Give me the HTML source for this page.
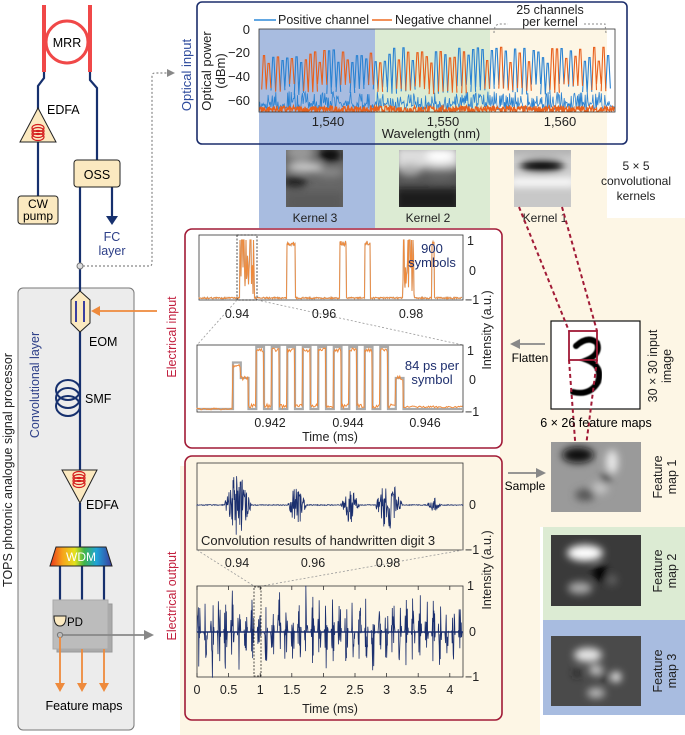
<!DOCTYPE html>
<html><head><meta charset="utf-8"><style>
html,body{margin:0;padding:0;background:#fff;}
svg{display:block;font-family:"Liberation Sans",sans-serif;}
</style></head><body>
<svg id="s" width="685" height="735" viewBox="0 0 685 735" xmlns="http://www.w3.org/2000/svg">
<defs>
<filter id="bl" x="-20%" y="-20%" width="140%" height="140%"><feGaussianBlur stdDeviation="4"/></filter>
<filter id="bl2"><feGaussianBlur stdDeviation="0.6"/></filter>
<linearGradient id="rb" x1="0" x2="1"><stop offset="0" stop-color="#e8331c"/><stop offset="0.2" stop-color="#f7a21b"/><stop offset="0.4" stop-color="#e4e21c"/><stop offset="0.55" stop-color="#3fb54a"/><stop offset="0.75" stop-color="#1fa3d8"/><stop offset="1" stop-color="#3b3a9c"/></linearGradient>
<clipPath id="c1"><rect x="259" y="20" width="356" height="92"/></clipPath>
<clipPath id="k1"><rect x="286" y="150" width="57" height="57"/></clipPath>
<clipPath id="k2"><rect x="399" y="150" width="57" height="57"/></clipPath>
<clipPath id="k3"><rect x="514" y="150" width="57" height="57"/></clipPath>
<clipPath id="f1"><rect x="551" y="442" width="90" height="70"/></clipPath>
<clipPath id="f2"><rect x="551" y="535" width="90" height="71"/></clipPath>
<clipPath id="f3"><rect x="551" y="636" width="90" height="70"/></clipPath>
</defs>
<rect x="180" y="466" width="360" height="269" fill="#fdf6e5"/>
<rect x="500" y="218" width="185" height="309" fill="#fdf6e5"/>
<rect x="543" y="527" width="142" height="93" fill="#dcebd3"/>
<rect x="543" y="620" width="142" height="95" fill="#a8bce0"/>
<rect x="259" y="29" width="116" height="199" fill="#a8bce0"/>
<rect x="375" y="29" width="115" height="199" fill="#dcebd3"/>
<rect x="490" y="29" width="117" height="201" fill="#fdf6e5"/>

<rect x="197" y="2" width="430" height="142" rx="5" fill="none" stroke="#1b2d6b" stroke-width="1.6"/>
<g id="spec" clip-path="url(#c1)"></g>
<rect x="259" y="29" width="356" height="83" fill="none" stroke="#333" stroke-width="0.8"/>
<g font-size="13" fill="#222">
<text x="250" y="34" text-anchor="end">0</text>
<text x="250" y="57" text-anchor="end">−20</text>
<text x="250" y="81" text-anchor="end">−40</text>
<text x="250" y="105" text-anchor="end">−60</text>
<text x="328" y="126" text-anchor="middle">1,540</text>
<text x="443" y="126" text-anchor="middle">1,550</text>
<text x="560" y="126" text-anchor="middle">1,560</text>
<text x="431" y="138" text-anchor="middle">Wavelength (nm)</text>
<text transform="translate(211,71) rotate(-90)" text-anchor="middle">Optical power</text>
<text transform="translate(225,71) rotate(-90)" text-anchor="middle">(dBm)</text>
<text x="278" y="24" font-size="12.5">Positive channel</text>
<text x="395" y="24" font-size="12.5">Negative channel</text>
<text x="550" y="14" font-size="12.5" text-anchor="middle">25 channels</text>
<text x="550" y="26" font-size="12.5" text-anchor="middle">per kernel</text>
</g>
<line x1="254" y1="20" x2="276" y2="20" stroke="#2e8ad8" stroke-width="1.5"/>
<line x1="372" y1="20" x2="392" y2="20" stroke="#ee6b22" stroke-width="1.5"/>
<path d="M494,33 Q494,24 500,24 L508,24 M584,24 L605,24 Q605,24 606,33" fill="none" stroke="#888" stroke-dasharray="2,2"/>
<text transform="translate(191,75) rotate(-90)" text-anchor="middle" font-size="13" fill="#2d4a9c">Optical input</text>

<g clip-path="url(#k1)"><rect x="286" y="150" width="57" height="57" fill="#666"/><g filter="url(#bl)">
<ellipse cx="300" cy="152" rx="14" ry="8" fill="#999"/><ellipse cx="330" cy="155" rx="12" ry="8" fill="#111"/><ellipse cx="305" cy="167" rx="18" ry="5" fill="#ccc"/><ellipse cx="330" cy="172" rx="14" ry="5" fill="#888"/><ellipse cx="295" cy="182" rx="12" ry="6" fill="#222"/><rect x="286" y="192" width="57" height="20" fill="#5a5a5a"/></g></g>
<g clip-path="url(#k2)"><rect x="399" y="150" width="57" height="57" fill="#555"/><g filter="url(#bl)">
<rect x="395" y="146" width="65" height="22" fill="#ddd"/><ellipse cx="440" cy="156" rx="14" ry="6" fill="#fff"/><ellipse cx="410" cy="170" rx="12" ry="6" fill="#aaa"/><ellipse cx="440" cy="174" rx="15" ry="6" fill="#666"/><rect x="395" y="188" width="65" height="24" fill="#1a1a1a"/></g></g>
<g clip-path="url(#k3)"><rect x="514" y="150" width="57" height="57" fill="#ccc"/><g filter="url(#bl)">
<rect x="510" y="146" width="65" height="8" fill="#aaa"/><ellipse cx="542" cy="166" rx="22" ry="6" fill="#000"/><rect x="510" y="178" width="65" height="8" fill="#fff"/><rect x="510" y="188" width="65" height="24" fill="#c8c8c8"/></g></g>
<g font-size="12" fill="#222" text-anchor="middle">
<text x="315" y="222">Kernel 3</text><text x="428" y="222">Kernel 2</text><text x="545" y="222">Kernel 1</text>
<text x="636" y="170">5 × 5</text><text x="636" y="185">convolutional</text><text x="636" y="200">kernels</text>
</g>

<rect x="185" y="229" width="317" height="219" rx="7" fill="#fff" stroke="#a11a36" stroke-width="1.6"/>
<text transform="translate(176,337) rotate(-90)" text-anchor="middle" font-size="12.5" fill="#c2203f">Electrical input</text>
<rect x="199" y="235" width="264" height="65" fill="#fff" stroke="#333" stroke-width="0.8"/>
<g id="p1"></g>
<rect x="237" y="235" width="20" height="65" fill="none" stroke="#222" stroke-dasharray="2,1.5" stroke-width="0.8"/>
<path d="M237,300 L197,345 M257,300 L463,345" stroke="#999" stroke-dasharray="2,2" stroke-width="0.8" fill="none"/>
<rect x="197" y="345" width="266" height="67" fill="#fff" stroke="#333" stroke-width="0.8"/>
<g id="p2"></g>
<g font-size="12.5" fill="#222">
<text x="467" y="245">1</text><text x="469" y="275">0</text><text x="465" y="304">−1</text>
<text x="467" y="355">1</text><text x="469" y="384">0</text><text x="465" y="416">−1</text>
<text x="237" y="318" text-anchor="middle">0.94</text><text x="324" y="318" text-anchor="middle">0.96</text><text x="411" y="318" text-anchor="middle">0.98</text>
<text x="270" y="427" text-anchor="middle">0.942</text><text x="348" y="427" text-anchor="middle">0.944</text><text x="425" y="427" text-anchor="middle">0.946</text>
<text x="330" y="441" text-anchor="middle">Time (ms)</text>
<text transform="translate(491,330) rotate(-90)" text-anchor="middle">Intensity (a.u.)</text>
</g>
<g font-size="13" fill="#1e2f6e" text-anchor="middle">
<text x="432" y="253">900</text><text x="432" y="267">symbols</text>
<text x="432" y="370">84 ps per</text><text x="432" y="384">symbol</text>
</g>

<rect x="185" y="456" width="317" height="264" rx="7" fill="#fdf6e5" stroke="#a11a36" stroke-width="1.6"/>
<text transform="translate(176,596) rotate(-90)" text-anchor="middle" font-size="12.5" fill="#c2203f">Electrical output</text>
<rect x="197" y="463" width="266" height="87" fill="#fdf6e5" stroke="#333" stroke-width="0.8"/>
<g id="p3"></g>
<path d="M197,550 L254,586 M463,550 L262,586" stroke="#999" stroke-dasharray="2,2" stroke-width="0.8" fill="none"/>
<rect x="197" y="586" width="266" height="91" fill="#fdf6e5" stroke="#333" stroke-width="0.8"/>
<g id="p4"></g>
<rect x="254" y="587" width="7" height="89" fill="none" stroke="#222" stroke-dasharray="2,1.5" stroke-width="0.8"/>
<g font-size="12.5" fill="#222">
<text x="469" y="509">0</text><text x="465" y="554">−1</text>
<text x="467" y="590">1</text><text x="469" y="636">0</text><text x="465" y="681">−1</text>
<text x="237" y="567" text-anchor="middle">0.94</text><text x="313" y="567" text-anchor="middle">0.96</text><text x="388" y="567" text-anchor="middle">0.98</text>
<text x="201" y="545" font-size="13">Convolution results of handwritten digit 3</text>
<text x="330" y="713" text-anchor="middle">Time (ms)</text>
<text transform="translate(491,570) rotate(-90)" text-anchor="middle">Intensity (a.u.)</text>
</g>
<g id="xt" font-size="12.5" fill="#222" text-anchor="middle"></g>

<rect x="18" y="288" width="116" height="442" rx="5" fill="#ececec" stroke="#777"/>
<text transform="translate(12,470) rotate(-90)" text-anchor="middle" font-size="12.5" fill="#222">TOPS photonic analogue signal processor</text>
<text transform="translate(39,385) rotate(-90)" text-anchor="middle" font-size="12.5" fill="#2d3f88">Convolutional layer</text>
<g stroke="#f04848" stroke-width="4" fill="none">
<line x1="44" y1="5" x2="44" y2="72"/><line x1="90" y1="5" x2="90" y2="72"/>
</g>
<circle cx="67" cy="42" r="21" fill="#fff" stroke="#f04848" stroke-width="3"/>
<text x="67" y="47" text-anchor="middle" font-size="12.5">MRR</text>
<g stroke="#16306e" stroke-width="2.2" fill="none">
<path d="M44,72 L44,78 L38,86 L38,110"/>
<path d="M38,142 L38,196"/>
<path d="M90,72 L90,80 L97,88 L97,160"/>
<path d="M80,187 L80,291"/>
<path d="M80,332 L80,470"/>
<path d="M80,503 L80,547"/>
<path d="M60,566 L60,600 M82,566 L82,600 M104,566 L104,600"/>
<path d="M112,187 L112,218"/>
</g>
<path d="M106,216 L118,216 L112,225 Z" fill="#16306e"/>
<path d="M38,108 L20,142 L56,142 Z" fill="#fbe9c0" stroke="#222"/>
<g fill="none" stroke="#d41d1d" stroke-width="1.2"><ellipse cx="38" cy="128" rx="6" ry="3.5"/><ellipse cx="38" cy="131" rx="6" ry="3.5"/><ellipse cx="38" cy="134" rx="6" ry="3.5"/><ellipse cx="38" cy="137" rx="6" ry="3.5"/></g>
<text x="47" y="114" font-size="12.5">EDFA</text>
<rect x="18" y="196" width="40" height="28" rx="3" fill="#fbe9c0" stroke="#222"/>
<text x="38" y="208" text-anchor="middle" font-size="12">CW</text><text x="38" y="220" text-anchor="middle" font-size="12">pump</text>
<rect x="74" y="160" width="46" height="27" rx="3" fill="#fbe9c0" stroke="#222"/>
<text x="97" y="179" text-anchor="middle" font-size="12.5">OSS</text>
<text x="112" y="241" text-anchor="middle" font-size="12.5" fill="#2d3f88">FC</text>
<text x="112" y="255" text-anchor="middle" font-size="12.5" fill="#2d3f88">layer</text>
<path d="M83,266 L150,266 Q152,266 152,262 L152,76 Q152,73 155,73 L168,73" fill="none" stroke="#888" stroke-dasharray="2,2" stroke-width="1.2"/>
<path d="M167,69 L175,73 L167,77 Z" fill="#888"/>
<circle cx="80" cy="266" r="3" fill="#ddd" stroke="#777"/>
<path d="M80,291 L90,300 L90,323 L80,332 L71,323 L71,300 Z" fill="#fbe9c0" stroke="#222"/>
<line x1="76" y1="301" x2="76" y2="322" stroke="#3b3fa0" stroke-width="2"/><line x1="84" y1="301" x2="84" y2="322" stroke="#3b3fa0" stroke-width="2"/>
<line x1="96" y1="311" x2="157" y2="311" stroke="#ee8a3c" stroke-width="1.8"/>
<path d="M91,311 L100,306 L100,316 Z" fill="#ee8a3c"/>
<text x="89" y="346" font-size="12.5">EOM</text>
<g fill="none" stroke="#16306e" stroke-width="2"><ellipse cx="68" cy="390" rx="12" ry="10"/><ellipse cx="68" cy="398" rx="12" ry="10"/><ellipse cx="68" cy="406" rx="12" ry="10"/></g>
<text x="85" y="403" font-size="12.5">SMF</text>
<path d="M62,470 L97,470 L80,503 Z" fill="#fbe9c0" stroke="#222"/>
<g fill="none" stroke="#d41d1d" stroke-width="1.2"><ellipse cx="79" cy="475" rx="6" ry="3.5"/><ellipse cx="79" cy="478" rx="6" ry="3.5"/><ellipse cx="79" cy="481" rx="6" ry="3.5"/><ellipse cx="79" cy="484" rx="6" ry="3.5"/></g>
<text x="86" y="509" font-size="12.5">EDFA</text>
<path d="M56,547 L106,547 L112,566 L50,566 Z" fill="url(#rb)" stroke="#222"/>
<text x="81" y="561" text-anchor="middle" font-size="12" fill="#fff">WDM</text>
<rect x="57" y="604" width="55" height="48" fill="#aaa" stroke="#999"/>
<rect x="53" y="600" width="55" height="49" fill="#bcbcbc" stroke="#aaa"/>
<path d="M54,616 L66,616 Q66,626 60,626 Q54,626 54,616 Z" fill="#fbe9c0" stroke="#222"/>
<text x="67" y="626" font-size="11.5">PD</text>
<circle cx="60" cy="635" r="2.6" fill="#bbb" stroke="#777"/>
<line x1="63" y1="635" x2="146" y2="635" stroke="#888" stroke-width="1.8"/>
<path d="M144,630 L154,635 L144,640 Z" fill="#888"/>
<g stroke="#ee8a3c" stroke-width="1.8"><line x1="60" y1="637" x2="60" y2="685"/><line x1="82" y1="649" x2="82" y2="685"/><line x1="104" y1="649" x2="104" y2="685"/></g>
<g fill="#ee8a3c"><path d="M55,683 L65,683 L60,692 Z"/><path d="M77,683 L87,683 L82,692 Z"/><path d="M99,683 L109,683 L104,692 Z"/></g>
<text x="84" y="710" text-anchor="middle" font-size="12.5">Feature maps</text>

<rect x="551" y="321" width="89" height="88" fill="#fff" stroke="#111" stroke-width="1.2"/>
<path d="M576,346 Q588,335 597,343 Q601,354 587,360 Q603,366 598,382 Q590,396 573,392" fill="none" stroke="#000" stroke-width="6" stroke-linecap="round" filter="url(#bl2)"/>
<rect x="569" y="331" width="28" height="29" fill="none" stroke="#a11a36" stroke-width="1.8"/>
<g stroke="#a11a36" stroke-width="2" stroke-dasharray="4,3" fill="none">
<line x1="519" y1="207" x2="569" y2="331"/><line x1="562" y1="207" x2="597" y2="331"/>
<line x1="569" y1="360" x2="579" y2="493"/><line x1="597" y1="360" x2="580" y2="493"/>
</g>
<line x1="518" y1="344" x2="545" y2="344" stroke="#888" stroke-width="1.8"/><path d="M510,344 L520,339 L520,349 Z" fill="#888"/>
<text x="530" y="362" text-anchor="middle" font-size="12">Flatten</text>
<line x1="508" y1="473" x2="538" y2="473" stroke="#888" stroke-width="1.8"/><path d="M546,473 L536,468 L536,478 Z" fill="#888"/>
<text x="525" y="490" text-anchor="middle" font-size="12">Sample</text>
<text x="596" y="427" text-anchor="middle" font-size="12.5">6 × 26 feature maps</text>
<g font-size="12.5" text-anchor="middle" fill="#222">
<text transform="translate(657,366) rotate(-90)">30 × 30 input</text><text transform="translate(671,366) rotate(-90)">image</text>
<text transform="translate(662,477) rotate(-90)">Feature</text><text transform="translate(676,477) rotate(-90)">map 1</text>
<text transform="translate(662,571) rotate(-90)">Feature</text><text transform="translate(676,571) rotate(-90)">map 2</text>
<text transform="translate(662,671) rotate(-90)">Feature</text><text transform="translate(676,671) rotate(-90)">map 3</text>
</g>
<g clip-path="url(#f1)"><rect x="551" y="442" width="90" height="70" fill="#9a9a9a"/><g filter="url(#bl)">
<ellipse cx="578" cy="455" rx="16" ry="8" fill="#111"/><ellipse cx="612" cy="462" rx="6" ry="12" fill="#e8e8e8"/><circle cx="606" cy="478" r="5" fill="#333"/><ellipse cx="585" cy="495" rx="10" ry="6" fill="#555"/><ellipse cx="600" cy="488" rx="8" ry="6" fill="#c4c4c4"/></g></g>
<g clip-path="url(#f2)"><rect x="551" y="535" width="90" height="71" fill="#3a3a3a"/><g filter="url(#bl)">
<ellipse cx="585" cy="553" rx="18" ry="8" fill="#fff"/><ellipse cx="600" cy="573" rx="7" ry="9" fill="#000"/><ellipse cx="580" cy="588" rx="12" ry="6" fill="#aaa"/><circle cx="612" cy="580" r="5" fill="#666"/></g></g>
<g clip-path="url(#f3)"><rect x="551" y="636" width="90" height="70" fill="#4a4a4a"/><g filter="url(#bl)">
<ellipse cx="588" cy="655" rx="14" ry="7" fill="#e6e6e6"/><ellipse cx="596" cy="670" rx="7" ry="5" fill="#ccc"/><circle cx="616" cy="677" r="5" fill="#fff"/><circle cx="604" cy="678" r="4" fill="#000"/><ellipse cx="596" cy="693" rx="9" ry="5" fill="#bbb"/><circle cx="577" cy="673" r="4" fill="#222"/></g></g>
</svg>
<script>
(function(){
var NS="http://www.w3.org/2000/svg";
var seed=7;function r(){seed=(seed*16807)%2147483647;return (seed-1)/2147483646;}
function path(g,d,c,w,op){var p=document.createElementNS(NS,"path");p.setAttribute("d",d);p.setAttribute("stroke",c);p.setAttribute("stroke-width",w);p.setAttribute("fill","none");if(op)p.setAttribute("opacity",op);document.getElementById(g).appendChild(p);}
function line(g,x1,y1,x2,y2,c,w){var p=document.createElementNS(NS,"line");p.setAttribute("x1",x1);p.setAttribute("y1",y1);p.setAttribute("x2",x2);p.setAttribute("y2",y2);p.setAttribute("stroke",c);p.setAttribute("stroke-width",w);document.getElementById(g).appendChild(p);}
function Y(db){return 29-db*1.2;}
var d1="",d2="",x,v;
d1="M259,"+Y(-66);
for(x=259;x<=614;x+=0.7){v=-68+r()*8;if(x>262&&x<606&&r()<0.3)v=-58+r()*6;d1+="L"+x.toFixed(1)+","+Y(v).toFixed(1);}
d2="M259,"+Y(-66);
for(x=259;x<=614;x+=0.5){v=-70+r()*6;d2+="L"+x.toFixed(1)+","+Y(v).toFixed(1);}
path("spec",d1,"#2a82d2",0.8);
path("spec",d2,"#e8601c",1.2);
var pb="",po="";
for(var i=0;i<75;i++){
 var cx=264+i*4.65,h=-15-r()*14,col=(i%2==0)?(r()<0.7):(r()<0.3);
 var base=-45-r()*10;
 var s="M"+(cx-2.3).toFixed(1)+","+Y(base).toFixed(1)+"L"+(cx-0.6).toFixed(1)+","+Y(h).toFixed(1)+"L"+(cx+0.6).toFixed(1)+","+Y(h).toFixed(1)+"L"+(cx+2.3).toFixed(1)+","+Y(base).toFixed(1);
 if(col)pb+=s;else po+=s;
}
path("spec",pb,"#2a82d2",1.1);path("spec",po,"#e8601c",1.1);
var bursts=[[240,254,1],[287,295,0],[340,346,0],[365,370,0],[403,414,1],[432,434,0]];
var g="M199,298";
for(x=199;x<=462;x+=0.5){var yy=298+(r()-0.5)*1.5;for(var b=0;b<bursts.length;b++){var B=bursts[b];if(x>=B[0]&&x<=B[1]){yy=B[2]?(r()<0.5?240:255+r()*40):241+r()*5;}}g+="L"+x+","+yy.toFixed(1);}
path("p1",g,"#bbb",1.2);
path("p1",g,"#ee8a3c",0.9);
function Y2(v){return 378-v*31;}
var levs=[0.5,0,-1,1,-1,1,-1,1,-1,1,-1,1,-1,1,-1,1,-1,1,-1,1,-1,0];
var gs="M197,"+Y2(-1)+"L233,"+Y2(-1),os="M197,"+Y2(-1);
for(x=197;x<233;x+=1)os+="L"+x+","+(Y2(-1)+(r()-0.5)*2).toFixed(1);
for(i=0;i<levs.length;i++){var xa=233+i*7.75,xb=xa+7.75;gs+="L"+xa.toFixed(1)+","+Y2(levs[i])+"L"+xb.toFixed(1)+","+Y2(levs[i]);
 for(x=xa;x<xb;x+=1){os+="L"+x.toFixed(1)+","+(Y2(levs[i])+(r()-0.5)*4+(levs[i]>0?3:(levs[i]<0?-3:0))).toFixed(1);}}
var xe=233+levs.length*7.75;gs+="L"+xe+","+Y2(-1)+"L463,"+Y2(-1);
for(x=xe;x<=463;x+=1)os+="L"+x.toFixed(1)+","+(Y2(-1)-2+(r()-0.5)*2).toFixed(1);
path("p2",gs,"#aaa",2.2);path("p2",os,"#ee8a3c",1);
var nb=[[238,10,35],[297,7,22],[350,7,18],[389,10,30],[434,5,8]];
var p3="M197,505";
for(x=197;x<=463;x+=0.4){var a=0;for(b=0;b<nb.length;b++){var N=nb[b];var dx=(x-N[0])/N[1];if(Math.abs(dx)<1.3)a=Math.max(a,N[2]*Math.exp(-dx*dx*1.2));}p3+="L"+x.toFixed(1)+","+(505+(r()*2-1)*a+(r()-0.5)*0.8).toFixed(1);}
path("p3",p3,"#1b2f6e",0.8);
var p4="M197,632";
for(x=197;x<=463;x+=0.35){var ph=((x-197)%6.7)/6.7;var env=ph<0.55?Math.sin(ph/0.55*Math.PI):0;var amp=(30+r()*18)*env;p4+="L"+x.toFixed(2)+","+(632+(r()*2-1)*amp).toFixed(1);}
path("p4",p4,"#1b2f6e",0.8);
line("p4",197,632,463,632,"#1b2f6e",1.5);
var xt=document.getElementById("xt");
for(i=0;i<=8;i++){var tx=197+i*31.6;var t=document.createElementNS(NS,"text");t.setAttribute("x",tx);t.setAttribute("y",694);t.textContent=(i%2==0?(i/2):(i/2).toFixed(1));xt.appendChild(t);
 line("p4",tx,586,tx,590,"#333",0.8);line("p4",tx,677,tx,673,"#333",0.8);}
})();
</script>
</body></html>
